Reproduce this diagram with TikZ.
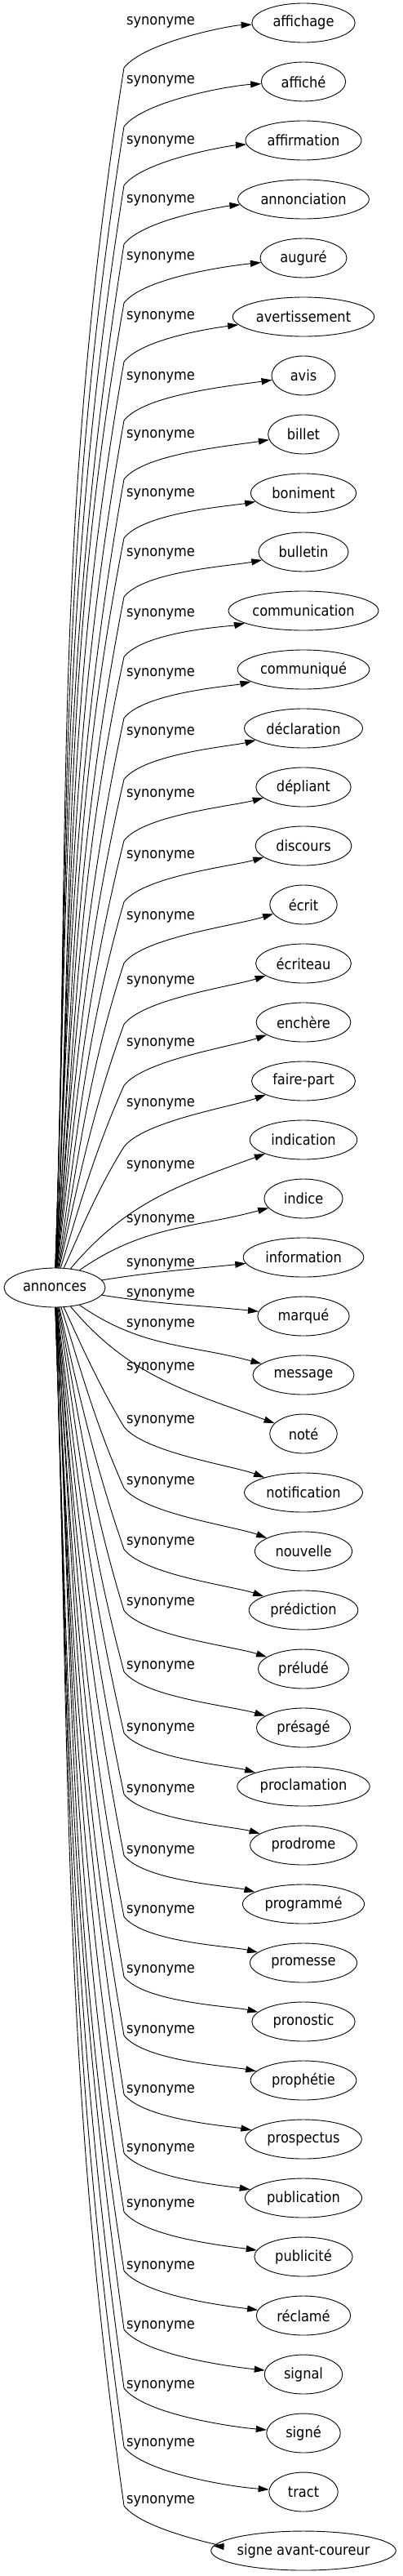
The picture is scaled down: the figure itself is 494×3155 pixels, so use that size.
\documentclass[tikz,border=0pt]{standalone}
\usepackage{fontspec}
\setmainfont{DejaVu Sans}[FakeStretch=0.9]
\usetikzlibrary{arrows.meta,shapes.geometric}
\tikzset{
  mot/.style={draw, ellipse, line width=0.9pt, inner sep=0pt, minimum height=48pt},
  lien/.style={line width=0.9pt, -{Triangle[length=13pt,width=8pt]}},
  rel/.style={inner sep=0pt}
}
\begin{document}
\fontsize{18}{21}\selectfont
\begin{tikzpicture}[x=1pt,y=1pt,font=\fontsize{18}{21}\selectfont]
  \useasboundingbox (0,0) rectangle (494,-3155);
  \node [mot, minimum width=124pt] (annonces) at (67,-1577) {annonces};
  \foreach \lbl/\ly [count=\i from 0] in {affichage/27, affiché/99,
      affirmation/173, annonciation/245, auguré/315, avertissement/388,
      avis/462, billet/533, boniment/605, bulletin/678, communication/752,
      communiqué/825, déclaration/897, dépliant/973, discours/1048,
      écrit/1123, écriteau/1202, enchère/1278, faire-part/1352,
      indication/1428, indice/1494, information/1548, marqué/1585,
      message/1622, noté/1675, notification/1740, nouvelle/1815,
      prédiction/1889, préludé/1963, présagé/2041, proclamation/2117,
      prodrome/2192, programmé/2267, promesse/2340, pronostic/2413,
      prophétie/2487, prospectus/2560, publication/2632, publicité/2700,
      réclamé/2776, signal/2849, signé/2922, tract/2993,
      signe avant-coureur/3063}{
    \pgfmathsetmacro{\yt}{28+72*\i}
    \pgfmathsetmacro{\rk}{abs(\yt-1576)/72}
    \pgfmathtruncatemacro{\sg}{\yt<1576 ? 1 : -1}
    \pgfmathsetmacro{\ww}{1.14*width("\lbl")+41}
    \node [mot, minimum width=\ww pt] (syn-\i) at (372,-\yt) {\makebox[0pt]{\lbl}};
    \node [rel] (rel-\i) at (197,-\ly) {synonyme};
    \ifdim\rk pt<3pt
      % close to annonces: one curve
      \pgfmathtruncatemacro{\dep}{(\rk<1 ? 9 : (\rk<2 ? 35 : 50))*\sg}
      \pgfmathtruncatemacro{\arr}{180+(\rk<1 ? 6 : (\rk<2 ? 15 : 20))*\sg}
      \draw [lien] (annonces) to [out=\dep, in=\arr] (syn-\i);
    \else
      \pgfmathsetmacro{\off}{55+3*max(0,12-\rk)}
      \pgfmathsetmacro{\by}{\yt+\sg*\off}
      \pgfmathsetmacro{\ang}{atan2(1577-\by,85)}
      \pgfmathsetmacro{\ca}{0.38*abs(1577-\by)}
      \pgfmathtruncatemacro{\dep}{\ang+2*\sg}
      \pgfmathtruncatemacro{\inang}{\ang-5*\sg+180}
      \pgfmathtruncatemacro{\pa}{52*\sg}
      \pgfmathtruncatemacro{\arr}{180+(24-\rk)*\sg}
      \coordinate (b-\i) at (152,-\by);
      \draw [lien] (annonces) .. controls +(\dep:\ca) and +(\inang:\ca) .. (b-\i)
        .. controls +(\pa:40) and +(\arr:90) .. (syn-\i);
    \fi
  }
\end{tikzpicture}
\end{document}
